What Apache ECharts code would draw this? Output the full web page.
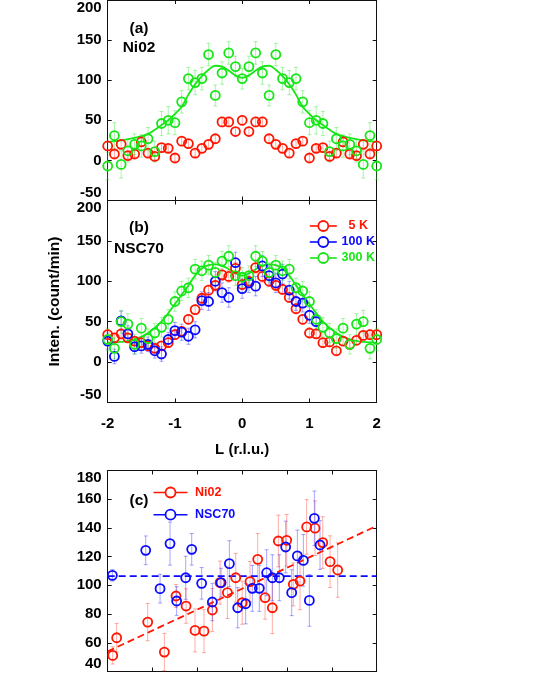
<!DOCTYPE html>
<html><head><meta charset="utf-8">
<script src="https://cdn.jsdelivr.net/npm/echarts@6/dist/echarts.min.js"></script>
<style>html,body{margin:0;padding:0;background:#fff}#c{width:538px;height:673px}</style>
</head><body><div id="c"></div>
<script>
// ---------- data ----------
const L = [-2,-1.9,-1.8,-1.7,-1.6,-1.5,-1.4,-1.3,-1.2,-1.1,-1,-0.9,-0.8,-0.7,-0.6,-0.5,-0.4,-0.3,-0.2,-0.1,0,0.1,0.2,0.3,0.4,0.5,0.6,0.7,0.8,0.9,1,1.1,1.2,1.3,1.4,1.5,1.6,1.7,1.8,1.9,2];
// panel (a) Ni02
const aRed = [18,8,20,6,8,23,9,5,16,15,3,24,21,9,15,20,27,48,48,36,50,36,48,48,27,20,15,9,21,24,3,15,16,5,9,23,8,6,20,8,18];
const aRedErr = [5,4,5,4,4,5,4,4,5,4,4,5,5,4,5,5,5,6,6,5,6,5,6,6,5,5,5,4,5,5,4,4,5,4,4,5,4,4,5,4,5];
const aGreen = [-7,31,-5,12,20,18,27,11,46,50,47,73,102,97,102,132,81,109,134,117,102,117,134,109,81,132,102,97,102,73,47,50,46,11,27,18,20,12,-5,31,-7];
const aGreenErr = [17,16,17,14,13,14,14,13,15,17,15,14,14,15,14,14,13,14,14,13,13,13,14,14,13,14,14,15,14,14,15,17,15,13,14,14,13,14,17,16,17];
const aFitL = [-2,-1.8,-1.6,-1.4,-1.2,-1.1,-1,-0.9,-0.8,-0.7,-0.6,-0.5,-0.4,-0.3,-0.2,-0.1,0,0.1,0.2,0.3,0.4,0.5,0.6,0.7,0.8,0.9,1,1.1,1.2,1.4,1.6,1.8,2];
const aFit = [23,25,28,33,44,50,58,67,82,95,105,113,118,117,112,106,103,106,112,117,118,113,105,95,82,67,58,50,44,33,28,25,23];
// panel (b) NSC70
const bRed = [34,30,35,30,26,24,20,17,20,24,34,38,53,65,79,89,95,108,106,116,96,100,117,106,100,95,90,80,66,53,36,35,24,25,14,26,22,27,33,34,34];
const bRedErr = [6,5,6,5,5,5,5,5,5,5,6,6,6,6,6,6,6,7,7,7,6,6,7,7,6,6,6,6,6,6,6,5,5,5,5,5,5,5,6,6,6];
const bBlue = [26,7,51,35,19,20,22,14,10,28,39,37,32,40,76,75,100,86,80,123,91,98,94,119,107,98,109,89,75,73,58,50];
const bBlueErr = [10,9,12,10,9,9,9,9,9,9,10,10,10,10,11,11,12,12,12,13,12,12,12,13,12,12,12,11,11,11,10,10];
const bGreen = [28,17,50,47,22,42,29,36,43,53,75,88,92,115,113,120,111,125,131,107,105,107,131,125,111,120,113,115,92,88,75,53,43,36,29,42,22,47,50,17,28];
const bGreenErr = [14,13,14,13,12,12,12,12,12,12,12,12,12,12,12,12,12,12,13,12,12,12,13,12,12,12,12,12,12,12,12,12,12,12,12,12,12,13,14,13,14];
const bFitL = [-2,-1.8,-1.6,-1.4,-1.2,-1,-0.8,-0.7,-0.6,-0.5,-0.4,-0.3,-0.2,-0.1,0,0.1,0.2,0.3,0.4,0.5,0.6,0.7,0.8,1,1.2,1.4,1.6,1.8,2];
const bFit = [24,25,28,36,50,72,95,107,116,120,121,119,115,110,107,110,115,119,121,120,116,107,95,72,50,36,28,25,24];
// panel (c)
const cRedX = [5.6,10,44.6,63.2,76.2,87.4,97.4,107.4,116.7,125.3,133.5,142.8,150,158.7,167.3,175.5,183.6,190.3,199.6,207,214.5,221.9,231.2,239.8,248,256.5];
const cRed = [51.2,63.5,74.4,53.5,92.6,85.6,68.6,68.1,82.8,101.9,94.9,105.3,87.9,102.6,118.1,91.4,84.4,130.9,131.4,100.7,103,140.7,139.8,129.8,116.5,110.7];
const cRedErr = [6,10,13,13,8,12,15,15,15,15,18,17,15,14,18,15,18,18,18,15,20,19,19,18,18,19];
const cBlueX = [5.2,42.4,58.4,69.5,76.9,87,93.7,104.8,116.7,126.4,135.7,145,153.9,161.3,169.1,177.3,183.6,191.4,198.5,205.2,211.5,218.2,224.9,230.5,236.8];
const cBlue = [107,124.4,97.7,129.1,89.1,105.3,125.1,101.4,88.4,101.9,115.1,84.4,87.2,97.9,97.9,108.8,105.3,105.3,126.7,94.9,120.5,117.4,89.5,146.7,128.1];
const cBlueErr = [4,10,10,15,10,15,11,11,13,10,16,14,14,16,16,16,16,16,18,16,18,18,18,19,17];
const cFitX = [0,300];
const cRedFit = [54,141.4];
const cBlueFit = [106.5,106.5];
const yTicksA = [-50,0,50,100,150,200];
const xTicksAB = [-2,-1,0,1,2];

// ---------- style ----------
const RED = '#ff1500', GREEN = '#16e616', BLUE = '#0a0aff';
const RED_E = 'rgba(255,40,20,0.38)', GREEN_E = 'rgba(30,230,30,0.38)', BLUE_E = 'rgba(20,20,255,0.38)';
const FONT = '"Liberation Sans", Arial, Helvetica, sans-serif';

function pts(xs, ys) { return ys.map((v, i) => [xs[i], v]); }
function errs(xs, ys, es) { return ys.map((v, i) => [xs[i], v - es[i], v + es[i]]); }

function errRender(params, api) {
  const x = api.value(0), lo = api.value(1), hi = api.value(2);
  const p1 = api.coord([x, hi]), p2 = api.coord([x, lo]);
  const w = 2;
  const st = { stroke: api.visual('color'), lineWidth: 1 };
  return { type: 'group', children: [
    { type: 'line', shape: { x1: p1[0], y1: p1[1], x2: p2[0], y2: p2[1] }, style: st },
    { type: 'line', shape: { x1: p1[0]-w, y1: p1[1], x2: p1[0]+w, y2: p1[1] }, style: st },
    { type: 'line', shape: { x1: p2[0]-w, y1: p2[1], x2: p2[0]+w, y2: p2[1] }, style: st }
  ]};
}
function errSeries(data, color, xi, yi) {
  return { type: 'custom', xAxisIndex: xi, yAxisIndex: yi, renderItem: errRender,
    encode: { x: 0, y: [1, 2] }, itemStyle: { color: color }, data: data, silent: true, z: 1 };
}
function ptSeries(name, data, color, xi, yi) {
  return { type: 'line', name: name, xAxisIndex: xi, yAxisIndex: yi, data: data,
    symbol: 'circle', symbolSize: 9, color: color,
    itemStyle: { color: 'rgba(255,255,255,0)', borderColor: color, borderWidth: 1.8 },
    lineStyle: { color: color, width: 0, opacity: 0 }, z: 3, clip: false };
}
function fitSeries(data, color, xi, yi, dashed) {
  return { type: 'line', xAxisIndex: xi, yAxisIndex: yi, data: data, symbol: 'none',
    smooth: dashed ? false : 0.4, silent: true, z: 2,
    lineStyle: { color: color, width: 1.8, type: dashed ? [7, 4] : 'solid' } };
}

const axLine = { show: true, onZero: false, lineStyle: { color: '#111', width: 1 } };
const tick = { show: true, inside: true, length: 4, lineStyle: { color: '#111', width: 1 } };
const lbl = { color: '#000', fontFamily: FONT, fontWeight: 'bold', fontSize: 15 };

function xAx(gi, pos, min, max, itv, showLbl, extra) {
  return Object.assign({ type: 'value', gridIndex: gi, position: pos, min: min, max: max, interval: itv,
    axisLine: axLine, axisTick: tick, splitLine: { show: false },
    axisLabel: Object.assign({ show: showLbl, margin: 14 }, lbl) }, extra || {});
}
function yAx(gi, pos, min, max, itv, showLbl, extra) {
  return Object.assign({ type: 'value', gridIndex: gi, position: pos, min: min, max: max, interval: itv,
    axisLine: axLine, axisTick: tick, splitLine: { show: false },
    axisLabel: Object.assign({ show: showLbl, margin: 6, verticalAlignMinLabel: 'bottom', verticalAlignMaxLabel: 'top' }, lbl) }, extra || {});
}

const legendText = { fontFamily: FONT, fontWeight: 'bold', fontSize: 12.5 };
function legItem(name, color) {
  return { name: name,
    itemStyle: { color: '#fff', borderColor: color, borderWidth: 1.8 },
    lineStyle: { color: color, width: 1.6, opacity: 1, type: 'solid' },
    textStyle: { color: color } };
}

const option = {
  animation: false,
  backgroundColor: '#fff',
  grid: [
    { left: 107.7, width: 269, top: -2, height: 202.5 },
    { left: 107.7, width: 269, top: 200.5, height: 202 },
    { left: 107.7, width: 269, top: 470.5, height: 201 }
  ],
  xAxis: [
    xAx(0, 'bottom', xTicksAB[0], xTicksAB[4], 1, false),
    xAx(0, 'top', xTicksAB[0], xTicksAB[4], 1, false),
    xAx(1, 'bottom', xTicksAB[0], xTicksAB[4], 1, true, { name: 'L (r.l.u.)', nameLocation: 'middle', nameGap: 40,
      nameTextStyle: { color: '#000', fontFamily: FONT, fontWeight: 'bold', fontSize: 15 } }),
    xAx(1, 'top', xTicksAB[0], xTicksAB[4], 1, false),
    xAx(2, 'bottom', 0, 300, 50, false),
    xAx(2, 'top', 0, 300, 50, false)
  ],
  yAxis: [
    yAx(0, 'left', yTicksA[0], yTicksA[5], 50, true),
    yAx(0, 'right', yTicksA[0], yTicksA[5], 50, false),
    yAx(1, 'left', yTicksA[0], yTicksA[5], 50, true, { name: 'Inten. (count/min)', nameLocation: 'middle', nameGap: 45,
      nameTextStyle: { color: '#000', fontFamily: FONT, fontWeight: 'bold', fontSize: 15.5 } }),
    yAx(1, 'right', yTicksA[0], yTicksA[5], 50, false),
    yAx(2, 'left', 40, 180, 20, true),
    yAx(2, 'right', 40, 180, 20, false)
  ],
  legend: [
    { orient: 'vertical', left: 309, top: 219.5, padding: 0, itemWidth: 27, itemHeight: 12.5, itemGap: 3,
      selectedMode: false, textStyle: Object.assign({ rich: { c: { width: 33, align: 'center' } } }, legendText),
      formatter: '{c|{name}}',
      data: [legItem('5 K', RED), legItem('100 K', BLUE), legItem('300 K', GREEN)] },
    { orient: 'vertical', left: 152.7, top: 486, padding: 0, itemWidth: 34, itemHeight: 12.5, itemGap: 9.2,
      selectedMode: false, textStyle: Object.assign({ padding: [0, 0, 0, 2.5] }, legendText),
      data: [legItem('Ni02', RED), legItem('NSC70', BLUE)] }
  ],
  graphic: [
    { type: 'text', x: 139, y: 29, style: { text: '(a)', font: 'bold 15.5px ' + FONT, fill: '#000', align: 'center', verticalAlign: 'middle' } },
    { type: 'text', x: 139, y: 48, style: { text: 'Ni02', font: 'bold 15.5px ' + FONT, fill: '#000', align: 'center', verticalAlign: 'middle' } },
    { type: 'text', x: 139, y: 228, style: { text: '(b)', font: 'bold 15.5px ' + FONT, fill: '#000', align: 'center', verticalAlign: 'middle' } },
    { type: 'text', x: 139, y: 249, style: { text: 'NSC70', font: 'bold 15.5px ' + FONT, fill: '#000', align: 'center', verticalAlign: 'middle' } },
    { type: 'text', x: 139, y: 501, style: { text: '(c)', font: 'bold 15.5px ' + FONT, fill: '#000', align: 'center', verticalAlign: 'middle' } }
  ],
  series: [
    // (a)
    errSeries(errs(L, aRed, aRedErr), RED_E, 0, 0),
    errSeries(errs(L, aGreen, aGreenErr), GREEN_E, 0, 0),
    ptSeries('Ni02 5 K', pts(L, aRed), RED, 0, 0),
    fitSeries(pts(aFitL, aFit), GREEN, 0, 0),
    ptSeries('Ni02 300 K', pts(L, aGreen), GREEN, 0, 0),
    // (b)
    errSeries(errs(L, bRed, bRedErr), RED_E, 2, 2),
    errSeries(errs(L, bBlue, bBlueErr), BLUE_E, 2, 2),
    errSeries(errs(L, bGreen, bGreenErr), GREEN_E, 2, 2),
    ptSeries('5 K', pts(L, bRed), RED, 2, 2),
    ptSeries('100 K', pts(L, bBlue), BLUE, 2, 2),
    fitSeries(pts(bFitL, bFit), GREEN, 2, 2),
    ptSeries('300 K', pts(L, bGreen), GREEN, 2, 2),
    // (c)
    errSeries(errs(cRedX, cRed, cRedErr), RED_E, 4, 4),
    errSeries(errs(cBlueX, cBlue, cBlueErr), BLUE_E, 4, 4),
    fitSeries(pts(cFitX, cRedFit), RED, 4, 4, true),
    fitSeries(pts(cFitX, cBlueFit), BLUE, 4, 4, true),
    ptSeries('Ni02', pts(cRedX, cRed), RED, 4, 4),
    ptSeries('NSC70', pts(cBlueX, cBlue), BLUE, 4, 4)
  ]
};
const chart = echarts.init(document.getElementById('c'), null, { renderer: 'canvas' });
chart.setOption(option);
</script>
</body></html>
